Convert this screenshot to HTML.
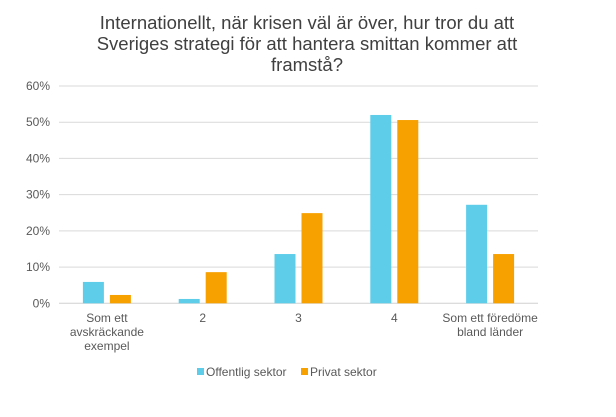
<!DOCTYPE html>
<html><head><meta charset="utf-8"><style>
body{margin:0;background:#fff;}
svg{display:block;font-family:"Liberation Sans",Arial,sans-serif;}
</style></head><body>
<svg id="chart" width="616" height="417" viewBox="0 0 616 417">
<g fill="#404040" font-size="18.5" text-anchor="middle">
<text x="307" y="29">Internationellt, när krisen väl är över, hur tror du att</text>
<text x="307" y="50">Sveriges strategi för att hantera smittan kommer att</text>
<text x="307" y="71">framstå?</text>
</g>
<g id="grid"></g><g id="ylabels"></g><g id="bars"></g><g id="xlabels"></g>
<g font-size="12" fill="#595959">
<rect x="197" y="368" width="7" height="7" fill="#5ECDEA"/>
<text x="206" y="376">Offentlig sektor</text>
<rect x="301" y="368" width="7" height="7" fill="#F7A100"/>
<text x="310" y="376">Privat sektor</text>
</g>
</svg>
<script>
const categories=[["Som ett","avskräckande","exempel"],["2"],["3"],["4"],["Som ett föredöme","bland länder"]];
const offentlig=[5.9,1.2,13.6,52.0,27.2];
const privat=[2.3,8.6,24.9,50.6,13.6];
const yTicks=[0,10,20,30,40,50,60];
const NS="http://www.w3.org/2000/svg";
const x0=59,x1=538,yBase=303.3,yTop=86;
function y(v){return yBase-(v/60)*(yBase-yTop);}
const bw=(x1-x0)/categories.length;
function cx(i){return x0+bw*(i+0.5);}
function mk(tag,attrs,parent){const e=document.createElementNS(NS,tag);for(const k in attrs)e.setAttribute(k,attrs[k]);document.getElementById(parent).appendChild(e);return e;}
yTicks.forEach(t=>{
  const l=mk("line",{x1:x0,x2:x1,y1:y(t),y2:y(t),stroke:t===0?"#d0d0d0":"#d9d9d9","stroke-width":1},"grid");
  
  
  const tx=mk("text",{x:50,y:y(t)+4,"text-anchor":"end","font-size":"12",fill:"#595959"},"ylabels");
  tx.textContent=t+"%";
  
  
});
categories.forEach((c,i)=>{
  const b1=mk("rect",{x:cx(i)-24,y:y(offentlig[i]),width:21,height:yBase-y(offentlig[i]),fill:"#5ECDEA"},"bars");
  
  
  const b2=mk("rect",{x:cx(i)+3,y:y(privat[i]),width:21,height:yBase-y(privat[i]),fill:"#F7A100"},"bars");
  
  
  c.forEach((line,j)=>{
    const t=mk("text",{x:cx(i),y:322+j*14,"text-anchor":"middle","font-size":"12",fill:"#595959"},"xlabels");
    t.textContent=line;
    
    
  });
});
</script>
</body></html>
